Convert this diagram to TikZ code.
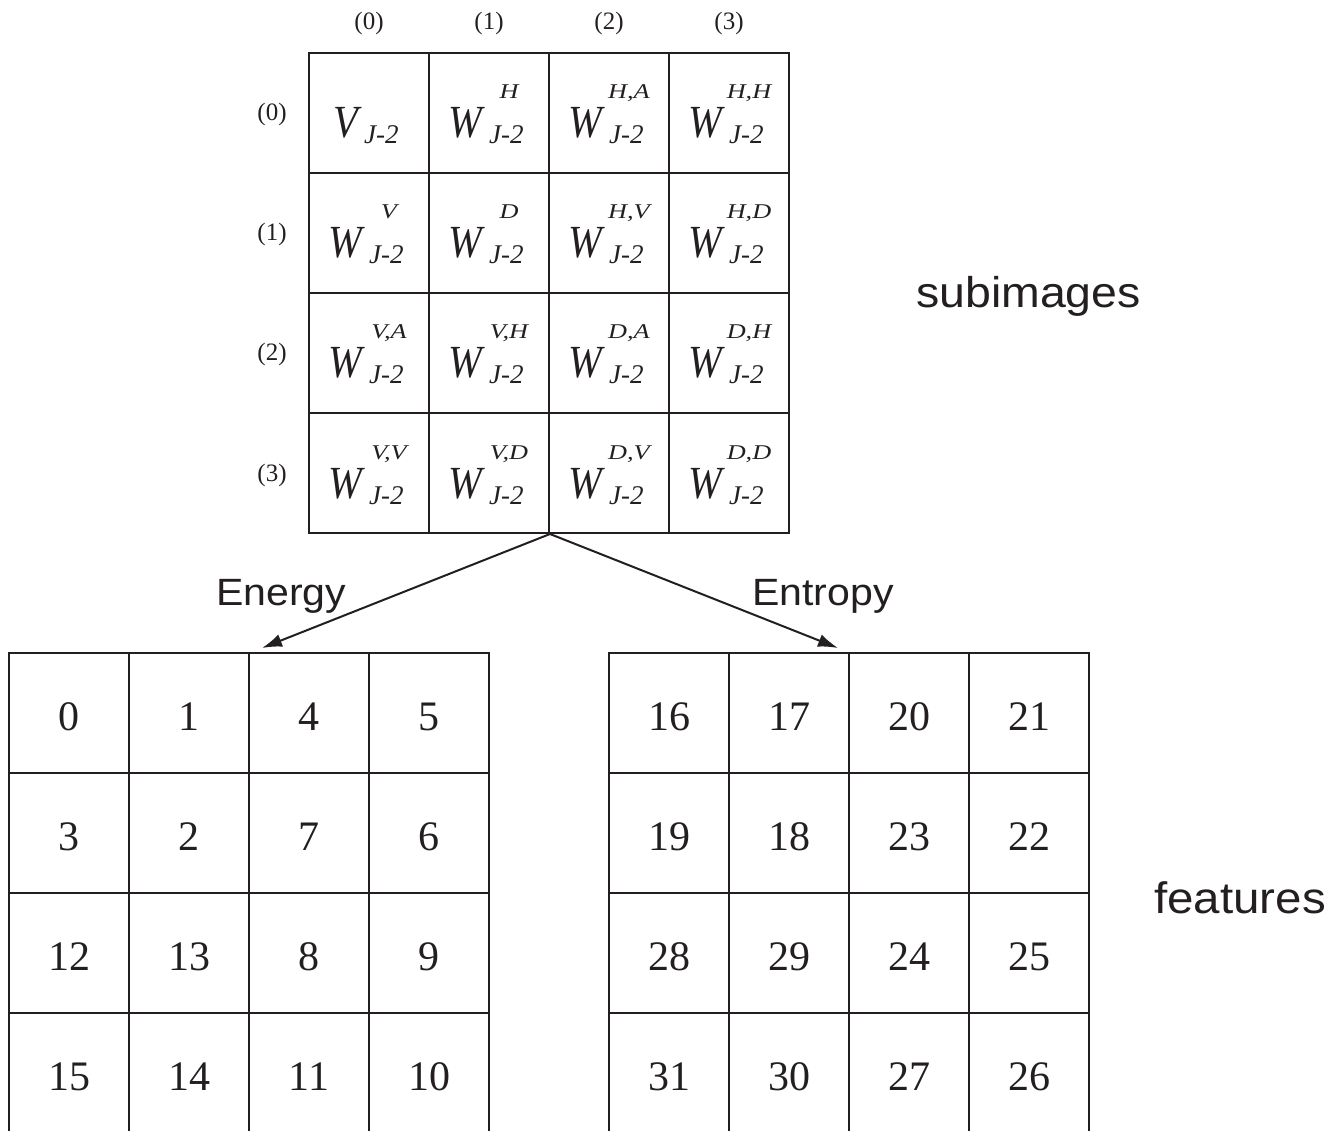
\documentclass[tikz,border=0pt]{standalone}
\usepackage{fontspec}
\setmainfont{Liberation Serif}
\newfontfamily\narrowserif[FakeStretch=0.88]{Liberation Serif}
\newfontfamily\wideserif[FakeStretch=1.25]{Liberation Serif}
\newfontfamily\labfont[FakeStretch=1.08]{Liberation Sans}
\usetikzlibrary{arrows.meta}
\definecolor{ink}{RGB}{35,31,32}

% one subimage cell: name, column, row, main letter, letter x-offset, subscript x-offset, superscript
\newcommand\subimg[7]{%
  \node[cell] (#1) at ({369+120*#2},{113+120*#3}) {};
  \node[bigit] (#1-m) at ([shift={(#5,25)}]#1.center) {#4};
  \node[subit] (#1-b) at ([shift={(#6,31)}]#1.center) {J-2};
  \node[supit] (#1-p) at ([shift={(20,-14)}]#1.center) {#7};
}

\begin{document}
\begin{tikzpicture}[x=1pt,y=-1pt,
  cell/.style={draw=ink, line width=2pt, minimum width=120pt, minimum height=120pt,
    inner sep=0pt, anchor=center},
  featcell/.style={cell, text=ink, font=\fontsize{42}{50}\selectfont,
    text height=34pt, text depth=0pt},
  bigit/.style={inner sep=0pt, text=ink, anchor=base west,
    font=\narrowserif\itshape\fontsize{46}{55}\selectfont},
  subit/.style={inner sep=0pt, text=ink, anchor=base west,
    font=\itshape\fontsize{27}{32}\selectfont},
  supit/.style={inner sep=0pt, text=ink, anchor=base,
    font=\wideserif\itshape\fontsize{21}{25}\selectfont},
  idx/.style={inner sep=0pt, text=ink, anchor=base, font=\fontsize{25}{30}\selectfont},
  caption/.style={inner sep=0pt, text=ink, anchor=base west, font=\labfont},
  link/.style={draw=ink, line width=2pt, -{Latex[length=20pt,width=13pt]}}]

\useasboundingbox (0,0) rectangle (1336,1131);

% subimage grid
\subimg{s00}{0}{0}{V}{-36}{-5}{}
\subimg{s10}{1}{0}{W}{-41}{0}{H}
\subimg{s20}{2}{0}{W}{-41}{0}{H,A}
\subimg{s30}{3}{0}{W}{-41}{0}{H,H}
\subimg{s01}{0}{1}{W}{-41}{0}{V}
\subimg{s11}{1}{1}{W}{-41}{0}{D}
\subimg{s21}{2}{1}{W}{-41}{0}{H,V}
\subimg{s31}{3}{1}{W}{-41}{0}{H,D}
\subimg{s02}{0}{2}{W}{-41}{0}{V,A}
\subimg{s12}{1}{2}{W}{-41}{0}{V,H}
\subimg{s22}{2}{2}{W}{-41}{0}{D,A}
\subimg{s32}{3}{2}{W}{-41}{0}{D,H}
\subimg{s03}{0}{3}{W}{-41}{0}{V,V}
\subimg{s13}{1}{3}{W}{-41}{0}{V,D}
\subimg{s23}{2}{3}{W}{-41}{0}{D,V}
\subimg{s33}{3}{3}{W}{-41}{0}{D,D}

% column and row indices
\foreach \i in {0,...,3} {
  \node[idx] (col\i) at ({369+120*\i},30) {(\i)};
  \node[idx] (row\i) at (272,{121+120*\i}) {(\i)};
}

% energy features
\foreach [count=\r from 0] \row in {{0,1,4,5},{3,2,7,6},{12,13,8,9},{15,14,11,10}} {
  \foreach [count=\c from 0] \v in \row {
    \node[featcell] (e\c\r) at ({69+120*\c},{713+120*\r}) {\v};
  }
}

% entropy features
\foreach [count=\r from 0] \row in {{16,17,20,21},{19,18,23,22},{28,29,24,25},{31,30,27,26}} {
  \foreach [count=\c from 0] \v in \row {
    \node[featcell] (f\c\r) at ({669+120*\c},{713+120*\r}) {\v};
  }
}

% connectors
\coordinate (split) at (s13.south east);
\coordinate (entip) at ([shift={(14,-4)}]e20.north west);
\coordinate (ettip) at ([shift={(-10,-4)}]f20.north west);
\draw[link] (split) -- (entip);
\draw[link] (split) -- (ettip);

% captions
\node[caption, font=\labfont\fontsize{38}{46}\selectfont] (energy) at (216,605) {Energy};
\node[caption, font=\labfont\fontsize{38}{46}\selectfont] (entropy) at (752,605) {Entropy};
\node[caption, font=\labfont\fontsize{43}{52}\selectfont] (subimages) at (916,308) {subimages};
\node[caption, font=\labfont\fontsize{44}{53}\selectfont] (features) at (1154,913) {features};
\end{tikzpicture}
\end{document}
